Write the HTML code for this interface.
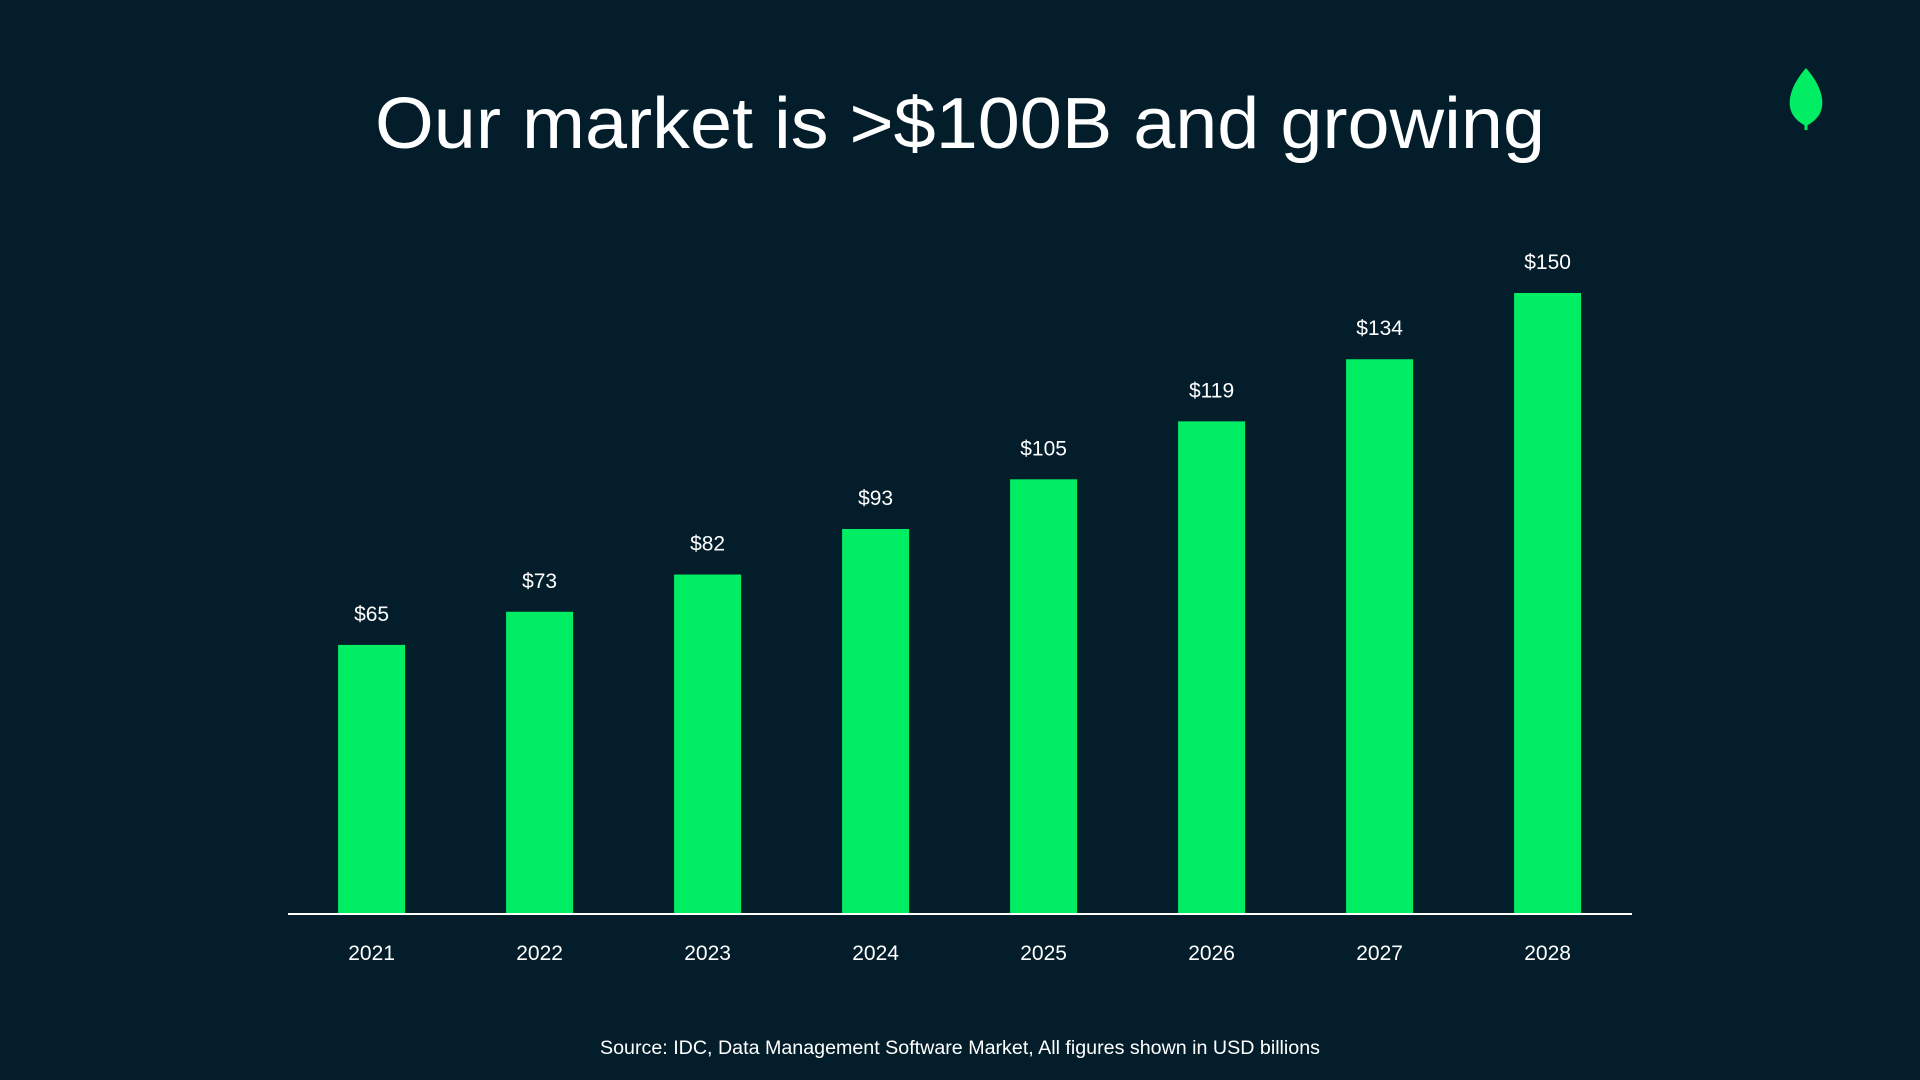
<!DOCTYPE html>
<html><head><meta charset="utf-8"><style>
html,body{margin:0;padding:0;background:#031d2b;width:1920px;height:1080px;overflow:hidden;font-family:"Liberation Sans",sans-serif;}
</style></head><body>
<svg width="1920" height="1080" viewBox="0 0 1920 1080">
<rect width="1920" height="1080" fill="#031d2b"/>
<text x="960" y="148" text-anchor="middle" fill="#ffffff" font-size="72" textLength="1170" lengthAdjust="spacingAndGlyphs">Our market is &gt;$100B and growing</text>
<g>
<path d="M1806 68 C1790 86 1786 104 1793 115 C1797 121 1802 124 1806 126 C1810 124 1815 121 1819 115 C1826 104 1822 86 1806 68 Z" fill="#00ed64"/>
<line x1="1806" y1="100" x2="1806" y2="130" stroke="#00ed64" stroke-width="3"/>
</g>
<g id="bars"></g>
<line x1="288" y1="914" x2="1632" y2="914" stroke="#ffffff" stroke-width="2"/>
<text x="960" y="1054" text-anchor="middle" fill="#ffffff" font-size="19" textLength="720" lengthAdjust="spacingAndGlyphs">Source: IDC, Data Management Software Market, All figures shown in USD billions</text>
</svg>
<script>
const categories = ["2021","2022","2023","2024","2025","2026","2027","2028"];
const values = [65,73,82,93,105,119,134,150];
const valueLabels = ["$65","$73","$82","$93","$105","$119","$134","$150"];
const ns="http://www.w3.org/2000/svg";
const baseY=914, pxPerUnit=4.14, x0=371.6, step=168, barW=67;
function xScale(i){return x0+i*step;}
function yScale(v){return baseY-v*pxPerUnit;}
const g=document.getElementById('bars');
categories.forEach((c,i)=>{
  const cx=xScale(i), top=yScale(values[i]);
  const r=document.createElementNS(ns,'rect');
  r.setAttribute('x',cx-barW/2);r.setAttribute('y',top);
  r.setAttribute('width',barW);r.setAttribute('height',baseY-top);
  r.setAttribute('fill','#00ed64');
  
  
  g.appendChild(r);
  const t=document.createElementNS(ns,'text');
  t.setAttribute('x',cx);t.setAttribute('y',top-24);
  t.setAttribute('text-anchor','middle');t.setAttribute('fill','#ffffff');t.setAttribute('font-size','21');
  t.textContent=valueLabels[i];
  
  
  g.appendChild(t);
  const y=document.createElementNS(ns,'text');
  y.setAttribute('x',cx);y.setAttribute('y',960);
  y.setAttribute('text-anchor','middle');y.setAttribute('fill','#ffffff');y.setAttribute('font-size','21');
  y.textContent=c;
  
  
  g.appendChild(y);
});
</script>
</body></html>
